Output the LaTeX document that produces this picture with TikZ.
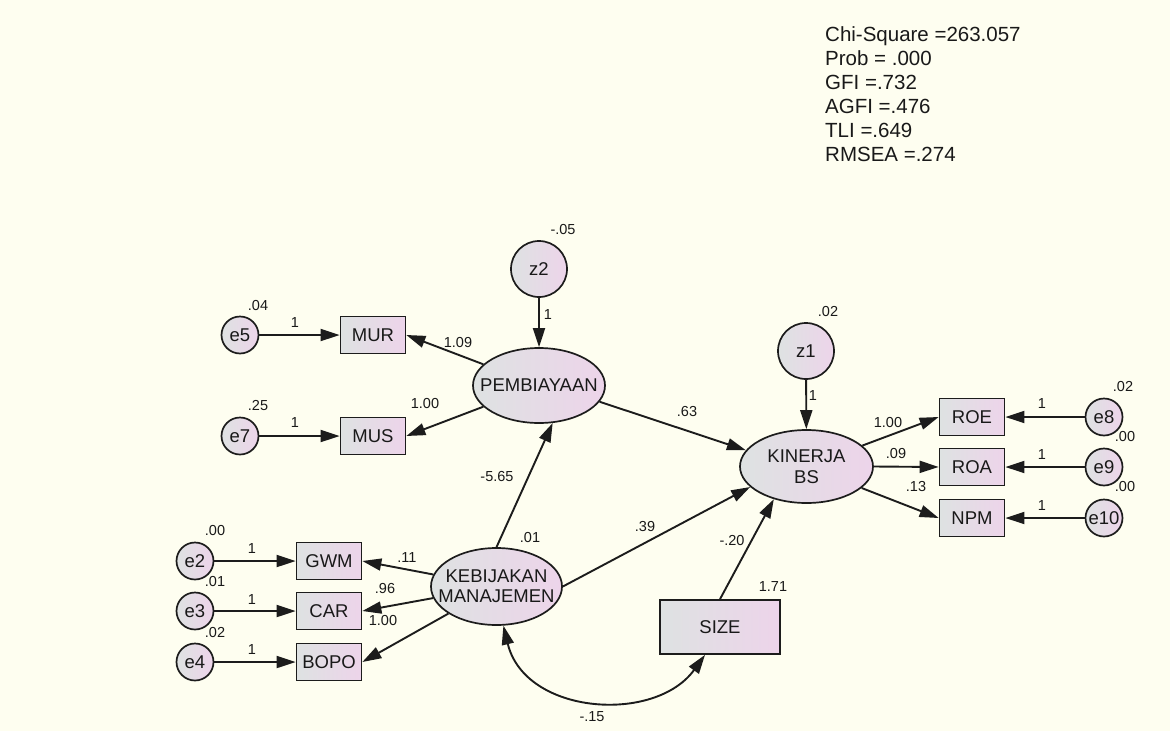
\documentclass[tikz,border=0pt]{standalone}
\usepackage{fontspec}
\setmainfont{Liberation Sans}
\usetikzlibrary{arrows.meta,shapes.geometric}
\definecolor{bg}{RGB}{254,254,240}
\definecolor{shA}{RGB}{222,226,226}
\definecolor{shB}{RGB}{237,212,234}
\definecolor{edge}{RGB}{28,28,28}
\definecolor{ink}{RGB}{25,25,25}
\tikzset{
  shadefill/.style={left color=shA, right color=shB, draw=edge, line width=1.7pt},
  nodefont/.style={font=\fontsize{18.5}{21}\selectfont, text=ink},
  lat/.style={ellipse, shadefill, minimum width=132pt, minimum height=75pt, inner sep=0pt},
  lattext/.style={nodefont, align=center, inner sep=0pt},
  obs/.style={rectangle, shadefill, nodefont, minimum width=65pt, minimum height=37pt, inner sep=0pt},
  err/.style={circle, shadefill, nodefont, minimum size=37pt, inner sep=0pt},
  dst/.style={circle, shadefill, nodefont, minimum size=56pt, inner sep=0pt},
  lbl/.style={font=\fontsize{14.5}{16}\selectfont, inner sep=0pt, text=ink},
  stat/.style={font=\fontsize{20.5}{24}\selectfont, inner sep=0pt, anchor=base west, text=ink},
  arr/.style={-{Triangle[length=19pt,width=12pt]}, line width=1.9pt, draw=edge},
  darr/.style={{Triangle[length=19pt,width=12pt]}-{Triangle[length=19pt,width=12pt]}, line width=1.9pt, draw=edge},
}
\begin{document}
\begin{tikzpicture}[x=1pt,y=-1pt]
\fill[bg] (0,0) rectangle (1170,731);
\useasboundingbox (0,0) rectangle (1170,731);

% fit statistics
\node[stat] (s1) at (825,41.7) {Chi-Square =263.057};
\node[stat] (s2) at (825,65.6) {Prob = .000};
\node[stat] (s3) at (825,89.5) {GFI =.732};
\node[stat] (s4) at (825,113.4) {AGFI =.476};
\node[stat] (s5) at (825,137.3) {TLI =.649};
\node[stat] (s6) at (825,161.2) {RMSEA =.274};

% latent variables
\node[lat] (pemb) at (539,385.5) {};
\node[lattext] (pembt) at (pemb) {PEMBIAYAAN};
\node[lat, minimum width=131pt, minimum height=77pt] (keb) at (496.5,586.5) {};
\node[lattext, font=\fontsize{18.5}{20}\selectfont] (kebt) at (keb) {KEBIJAKAN\\MANAJEMEN};
\node[lat, minimum width=133pt, minimum height=73pt] (kin) at (806.5,466.5) {};
\node[lattext] (kint) at (kin) {KINERJA\\BS};

% disturbances
\node[dst] (z2) at (539,269) {z2};
\node[dst] (z1) at (806,351) {z1};

% observed
\node[obs] (mur) at (373,335) {MUR};
\node[obs] (mus) at (373,436) {MUS};
\node[obs] (gwm) at (329,561) {GWM};
\node[obs] (car) at (329,611) {CAR};
\node[obs] (bopo) at (329,662) {BOPO};
\node[obs] (roe) at (972,417) {ROE};
\node[obs] (roa) at (972,467) {ROA};
\node[obs] (npm) at (972,518) {NPM};
\node[obs, minimum width=120pt, minimum height=54pt] (size) at (720,627) {SIZE};

% errors
\node[err] (e5) at (240,335) {e5};
\node[err] (e7) at (240,436) {e7};
\node[err] (e2) at (195,561) {e2};
\node[err] (e3) at (195,611) {e3};
\node[err] (e4) at (195,662) {e4};
\node[err] (e8) at (1104,417) {e8};
\node[err] (e9) at (1104,467) {e9};
\node[err] (e10) at (1104,518) {e10};

% error paths
\draw[arr] (e5) -- (mur);
\draw[arr] (e7) -- (mus);
\draw[arr] (e2) -- (gwm);
\draw[arr] (e3) -- (car);
\draw[arr] (e4) -- (bopo);
\draw[arr] (e8) -- (roe);
\draw[arr] (e9) -- (roa);
\draw[arr] (e10) -- (npm);

% disturbance paths
\draw[arr] (z2) -- (pemb);
\draw[arr] (z1) -- (kin);

% loadings
\draw[arr] (pemb) -- (mur.east);
\draw[arr] (pemb) -- (mus.east);
\draw[arr] (keb) -- (gwm.east);
\draw[arr] (keb) -- (car.east);
\draw[arr] (keb) -- (bopo.east);
\draw[arr] (kin) -- (roe.west);
\draw[arr] (kin.east) -- (roa.west);
\draw[arr] (kin) -- (npm.west);

% structural paths
\draw[arr] (keb.north) -- (pemb.-70);
\draw[arr] (pemb.-15) -- (kin.165);
\draw[arr] (keb.east) -- (kin.-160);
\draw[arr] (size.north) -- (kin.-135);
\draw[darr] (keb.-80) .. controls (525,715) and (655,724) .. ([xshift=-15pt]size.south);

% labels
\node[lbl] (l1) at (563,230) {-.05};
\node[lbl] (l2) at (548,315) {1};
\node[lbl] (l3) at (258,306) {.04};
\node[lbl] (l4) at (295,323) {1};
\node[lbl] (l5) at (458,343) {1.09};
\node[lbl] (l6) at (258,406) {.25};
\node[lbl] (l7) at (295,423) {1};
\node[lbl] (l8) at (425,404) {1.00};
\node[lbl] (l9) at (215,531) {.00};
\node[lbl] (l10) at (215,582) {.01};
\node[lbl] (l11) at (215,633) {.02};
\node[lbl] (l12) at (252,549) {1};
\node[lbl] (l13) at (252,600) {1};
\node[lbl] (l14) at (252,650) {1};
\node[lbl] (l15) at (407,558) {.11};
\node[lbl] (l16) at (385,589) {.96};
\node[lbl] (l17) at (383,620) {1.00};
\node[lbl] (l18) at (530,538) {.01};
\node[lbl] (l19) at (497,477) {-5.65};
\node[lbl] (l20) at (645,527) {.39};
\node[lbl] (l21) at (687,412) {.63};
\node[lbl] (l22) at (828,312) {.02};
\node[lbl] (l23) at (813,396) {1};
\node[lbl] (l24) at (888,423) {1.00};
\node[lbl] (l25) at (896,454) {.09};
\node[lbl] (l26) at (916,487) {.13};
\node[lbl] (l27) at (1123,387) {.02};
\node[lbl] (l28) at (1125,437) {.00};
\node[lbl] (l29) at (1125,487) {.00};
\node[lbl] (l30) at (1042,404) {1};
\node[lbl] (l31) at (1042,455) {1};
\node[lbl] (l32) at (1042,506) {1};
\node[lbl] (l33) at (732,541) {-.20};
\node[lbl] (l34) at (773,587) {1.71};
\node[lbl] (l35) at (592,717) {-.15};
\end{tikzpicture}
\end{document}
